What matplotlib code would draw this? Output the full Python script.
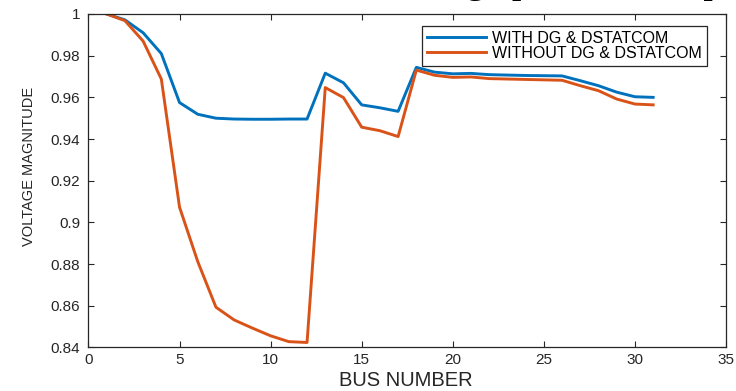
import matplotlib
matplotlib.use("Agg")
import matplotlib.pyplot as plt

# bus voltage magnitudes (p.u.) for the 31 buses
bus = list(range(1, 32))
with_dg = [1.0, 0.9972, 0.9910, 0.9810, 0.9575, 0.9519, 0.9500, 0.9496, 0.9495, 0.9495,
           0.9496, 0.9496, 0.9716, 0.9670, 0.9564, 0.9550, 0.9533, 0.9744, 0.9721, 0.9713,
           0.9715, 0.9709, 0.9707, 0.9705, 0.9704, 0.9703, 0.9680, 0.9656, 0.9625, 0.9603, 0.9600]
without_dg = [1.0, 0.9968, 0.9870, 0.9688, 0.9073, 0.8812, 0.8593, 0.8532, 0.8493, 0.8456,
              0.8428, 0.8424, 0.9647, 0.9599, 0.9457, 0.9440, 0.9412, 0.9731, 0.9706, 0.9696,
              0.9698, 0.9690, 0.9688, 0.9686, 0.9684, 0.9682, 0.9656, 0.9632, 0.9592, 0.9568, 0.9564]
xticks = [0, 5, 10, 15, 20, 25, 30, 35]
yticks = [0.84, 0.86, 0.88, 0.9, 0.92, 0.94, 0.96, 0.98, 1]
ytick_labels = ['0.84', '0.86', '0.88', '0.9', '0.92', '0.94', '0.96', '0.98', '1']

plt.rcParams['font.family'] = ['Liberation Sans', 'DejaVu Sans']

fig = plt.figure(figsize=(7.36, 3.91), dpi=100)
ax = fig.add_axes([0.1202, 0.1113, 0.8662, 0.8529])

ax.plot(bus, with_dg, color='#0072BD', lw=2.1, label='WITH DG & DSTATCOM')
ax.plot(bus, without_dg, color='#D95319', lw=2.1, label='WITHOUT DG & DSTATCOM')

ax.set_xlim(0, 35)
ax.set_ylim(0.84, 1)
ax.set_xticks(xticks)
ax.set_yticks(yticks)
ax.set_yticklabels(ytick_labels)
ax.tick_params(direction='in', length=4, width=0.8, top=True, right=True,
               labelsize=11, colors='#262626', pad=4)
ax.tick_params(axis='y', pad=6)
for s in ax.spines.values():
    s.set_color('#262626')
    s.set_linewidth(0.9)

leg = ax.legend(loc='upper right', bbox_to_anchor=(0.970, 0.964), fontsize=11.5,
                handlelength=3.7, handletextpad=0.4, borderpad=0.3, labelspacing=0.0,
                fancybox=False, framealpha=1, borderaxespad=0)
leg.get_frame().set_edgecolor('#262626')
leg.get_frame().set_linewidth(0.9)

fig.text(406 / 736, 1 - 381 / 391, 'BUS NUMBER', ha='center', va='center',
         fontsize=14.5, color='#262626')
fig.text(29 / 736, 1 - 166 / 391, 'VOLTAGE MAGNITUDE', ha='center', va='center',
         rotation=90, fontsize=10.5, color='#262626')

# caption of the page above, cut off at the top edge
fig.text(0.525, 1.018, 'Voltage profile after placement', ha='left', va='baseline',
         fontsize=27.5, family='Liberation Serif', color='black')

fig.savefig('out.png', dpi=100)
